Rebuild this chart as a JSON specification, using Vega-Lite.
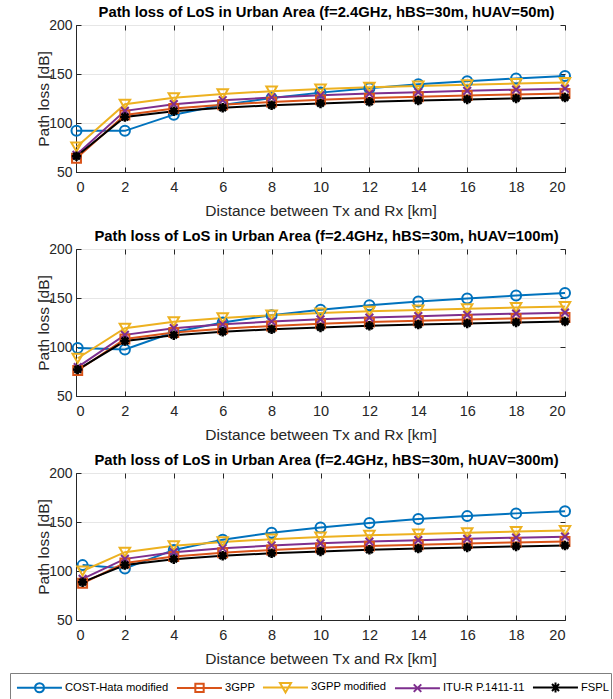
{
  "$schema": "https://vega.github.io/schema/vega-lite/v6.json",
  "padding": {"left": 9, "top": 4, "right": 0, "bottom": 0},
  "config": {
    "font": "Liberation Sans",
    "view": {"stroke": "#262626", "strokeWidth": 1},
    "axis": {"domainColor": "#262626", "tickColor": "#262626", "labelColor": "#262626", "titleColor": "#262626", "gridColor": "#e6e6e6", "labelFontSize": 14.5, "titleFontSize": 15.5, "titleFontWeight": "normal", "tickSize": -5, "domainWidth": 1, "labelFont": "Liberation Sans", "titleFont": "Liberation Sans"},
    "title": {"fontSize": 14.8, "fontWeight": "bold", "color": "#000000", "offset": -2, "dx": 6, "font": "Liberation Sans"},
    "legend": {"labelColor": "#000000", "strokeColor": "#7f7f7f", "fillColor": "#ffffff", "labelFont": "Liberation Sans", "labelLimit": 300}
  },
  "data": {"values": [
    {"p": 50, "m": "COST-Hata modified", "d": 0.02, "v": 92},
    {"p": 50, "m": "COST-Hata modified", "d": 2, "v": 92},
    {"p": 50, "m": "COST-Hata modified", "d": 4, "v": 108.5},
    {"p": 50, "m": "COST-Hata modified", "d": 6, "v": 118.5},
    {"p": 50, "m": "COST-Hata modified", "d": 8, "v": 125.5},
    {"p": 50, "m": "COST-Hata modified", "d": 10, "v": 131},
    {"p": 50, "m": "COST-Hata modified", "d": 12, "v": 135.5},
    {"p": 50, "m": "COST-Hata modified", "d": 14, "v": 139.5},
    {"p": 50, "m": "COST-Hata modified", "d": 16, "v": 142.5},
    {"p": 50, "m": "COST-Hata modified", "d": 18, "v": 145.5},
    {"p": 50, "m": "COST-Hata modified", "d": 20, "v": 148},
    {"p": 50, "m": "3GPP", "d": 0.02, "v": 64},
    {"p": 50, "m": "3GPP", "d": 2, "v": 108.2},
    {"p": 50, "m": "3GPP", "d": 4, "v": 114.8},
    {"p": 50, "m": "3GPP", "d": 6, "v": 118.7},
    {"p": 50, "m": "3GPP", "d": 8, "v": 121.5},
    {"p": 50, "m": "3GPP", "d": 10, "v": 123.6},
    {"p": 50, "m": "3GPP", "d": 12, "v": 125.4},
    {"p": 50, "m": "3GPP", "d": 14, "v": 126.8},
    {"p": 50, "m": "3GPP", "d": 16, "v": 128.1},
    {"p": 50, "m": "3GPP", "d": 18, "v": 129.2},
    {"p": 50, "m": "3GPP", "d": 20, "v": 130.2},
    {"p": 50, "m": "3GPP modified", "d": 0.02, "v": 75.5},
    {"p": 50, "m": "3GPP modified", "d": 2, "v": 119.2},
    {"p": 50, "m": "3GPP modified", "d": 4, "v": 125.8},
    {"p": 50, "m": "3GPP modified", "d": 6, "v": 129.7},
    {"p": 50, "m": "3GPP modified", "d": 8, "v": 132.5},
    {"p": 50, "m": "3GPP modified", "d": 10, "v": 134.6},
    {"p": 50, "m": "3GPP modified", "d": 12, "v": 136.4},
    {"p": 50, "m": "3GPP modified", "d": 14, "v": 137.8},
    {"p": 50, "m": "3GPP modified", "d": 16, "v": 139.1},
    {"p": 50, "m": "3GPP modified", "d": 18, "v": 140.2},
    {"p": 50, "m": "3GPP modified", "d": 20, "v": 141.2},
    {"p": 50, "m": "ITU-R P.1411-11", "d": 0.02, "v": 67.5},
    {"p": 50, "m": "ITU-R P.1411-11", "d": 2, "v": 112.4},
    {"p": 50, "m": "ITU-R P.1411-11", "d": 4, "v": 119.2},
    {"p": 50, "m": "ITU-R P.1411-11", "d": 6, "v": 123.2},
    {"p": 50, "m": "ITU-R P.1411-11", "d": 8, "v": 126},
    {"p": 50, "m": "ITU-R P.1411-11", "d": 10, "v": 128.2},
    {"p": 50, "m": "ITU-R P.1411-11", "d": 12, "v": 130},
    {"p": 50, "m": "ITU-R P.1411-11", "d": 14, "v": 131.5},
    {"p": 50, "m": "ITU-R P.1411-11", "d": 16, "v": 132.8},
    {"p": 50, "m": "ITU-R P.1411-11", "d": 18, "v": 134},
    {"p": 50, "m": "ITU-R P.1411-11", "d": 20, "v": 135},
    {"p": 50, "m": "FSPL", "d": 0.02, "v": 66},
    {"p": 50, "m": "FSPL", "d": 2, "v": 106.1},
    {"p": 50, "m": "FSPL", "d": 4, "v": 112.1},
    {"p": 50, "m": "FSPL", "d": 6, "v": 115.6},
    {"p": 50, "m": "FSPL", "d": 8, "v": 118.1},
    {"p": 50, "m": "FSPL", "d": 10, "v": 120},
    {"p": 50, "m": "FSPL", "d": 12, "v": 121.6},
    {"p": 50, "m": "FSPL", "d": 14, "v": 123},
    {"p": 50, "m": "FSPL", "d": 16, "v": 124.1},
    {"p": 50, "m": "FSPL", "d": 18, "v": 125.1},
    {"p": 50, "m": "FSPL", "d": 20, "v": 126.1},

    {"p": 100, "m": "COST-Hata modified", "d": 0.07, "v": 99},
    {"p": 100, "m": "COST-Hata modified", "d": 2, "v": 97.5},
    {"p": 100, "m": "COST-Hata modified", "d": 4, "v": 115},
    {"p": 100, "m": "COST-Hata modified", "d": 6, "v": 125},
    {"p": 100, "m": "COST-Hata modified", "d": 8, "v": 132.5},
    {"p": 100, "m": "COST-Hata modified", "d": 10, "v": 138},
    {"p": 100, "m": "COST-Hata modified", "d": 12, "v": 142.5},
    {"p": 100, "m": "COST-Hata modified", "d": 14, "v": 146.5},
    {"p": 100, "m": "COST-Hata modified", "d": 16, "v": 149.5},
    {"p": 100, "m": "COST-Hata modified", "d": 18, "v": 152.5},
    {"p": 100, "m": "COST-Hata modified", "d": 20, "v": 155},
    {"p": 100, "m": "3GPP", "d": 0.07, "v": 76},
    {"p": 100, "m": "3GPP", "d": 2, "v": 108.2},
    {"p": 100, "m": "3GPP", "d": 4, "v": 114.8},
    {"p": 100, "m": "3GPP", "d": 6, "v": 118.7},
    {"p": 100, "m": "3GPP", "d": 8, "v": 121.5},
    {"p": 100, "m": "3GPP", "d": 10, "v": 123.6},
    {"p": 100, "m": "3GPP", "d": 12, "v": 125.4},
    {"p": 100, "m": "3GPP", "d": 14, "v": 126.8},
    {"p": 100, "m": "3GPP", "d": 16, "v": 128.1},
    {"p": 100, "m": "3GPP", "d": 18, "v": 129.2},
    {"p": 100, "m": "3GPP", "d": 20, "v": 130.2},
    {"p": 100, "m": "3GPP modified", "d": 0.07, "v": 88.5},
    {"p": 100, "m": "3GPP modified", "d": 2, "v": 119.2},
    {"p": 100, "m": "3GPP modified", "d": 4, "v": 125.8},
    {"p": 100, "m": "3GPP modified", "d": 6, "v": 129.7},
    {"p": 100, "m": "3GPP modified", "d": 8, "v": 132.5},
    {"p": 100, "m": "3GPP modified", "d": 10, "v": 134.6},
    {"p": 100, "m": "3GPP modified", "d": 12, "v": 136.4},
    {"p": 100, "m": "3GPP modified", "d": 14, "v": 137.8},
    {"p": 100, "m": "3GPP modified", "d": 16, "v": 139.1},
    {"p": 100, "m": "3GPP modified", "d": 18, "v": 140.2},
    {"p": 100, "m": "3GPP modified", "d": 20, "v": 141.2},
    {"p": 100, "m": "ITU-R P.1411-11", "d": 0.07, "v": 79.5},
    {"p": 100, "m": "ITU-R P.1411-11", "d": 2, "v": 112.4},
    {"p": 100, "m": "ITU-R P.1411-11", "d": 4, "v": 119.2},
    {"p": 100, "m": "ITU-R P.1411-11", "d": 6, "v": 123.2},
    {"p": 100, "m": "ITU-R P.1411-11", "d": 8, "v": 126},
    {"p": 100, "m": "ITU-R P.1411-11", "d": 10, "v": 128.2},
    {"p": 100, "m": "ITU-R P.1411-11", "d": 12, "v": 130},
    {"p": 100, "m": "ITU-R P.1411-11", "d": 14, "v": 131.5},
    {"p": 100, "m": "ITU-R P.1411-11", "d": 16, "v": 132.8},
    {"p": 100, "m": "ITU-R P.1411-11", "d": 18, "v": 134},
    {"p": 100, "m": "ITU-R P.1411-11", "d": 20, "v": 135},
    {"p": 100, "m": "FSPL", "d": 0.07, "v": 77},
    {"p": 100, "m": "FSPL", "d": 2, "v": 106.1},
    {"p": 100, "m": "FSPL", "d": 4, "v": 112.1},
    {"p": 100, "m": "FSPL", "d": 6, "v": 115.6},
    {"p": 100, "m": "FSPL", "d": 8, "v": 118.1},
    {"p": 100, "m": "FSPL", "d": 10, "v": 120},
    {"p": 100, "m": "FSPL", "d": 12, "v": 121.6},
    {"p": 100, "m": "FSPL", "d": 14, "v": 123},
    {"p": 100, "m": "FSPL", "d": 16, "v": 124.1},
    {"p": 100, "m": "FSPL", "d": 18, "v": 125.1},
    {"p": 100, "m": "FSPL", "d": 20, "v": 126.1},

    {"p": 300, "m": "COST-Hata modified", "d": 0.27, "v": 106},
    {"p": 300, "m": "COST-Hata modified", "d": 2, "v": 102.5},
    {"p": 300, "m": "COST-Hata modified", "d": 4, "v": 121.5},
    {"p": 300, "m": "COST-Hata modified", "d": 6, "v": 132},
    {"p": 300, "m": "COST-Hata modified", "d": 8, "v": 139},
    {"p": 300, "m": "COST-Hata modified", "d": 10, "v": 144.5},
    {"p": 300, "m": "COST-Hata modified", "d": 12, "v": 149},
    {"p": 300, "m": "COST-Hata modified", "d": 14, "v": 153},
    {"p": 300, "m": "COST-Hata modified", "d": 16, "v": 156},
    {"p": 300, "m": "COST-Hata modified", "d": 18, "v": 158.8},
    {"p": 300, "m": "COST-Hata modified", "d": 20, "v": 161},
    {"p": 300, "m": "3GPP", "d": 0.27, "v": 87.5},
    {"p": 300, "m": "3GPP", "d": 2, "v": 108.2},
    {"p": 300, "m": "3GPP", "d": 4, "v": 114.8},
    {"p": 300, "m": "3GPP", "d": 6, "v": 118.7},
    {"p": 300, "m": "3GPP", "d": 8, "v": 121.5},
    {"p": 300, "m": "3GPP", "d": 10, "v": 123.6},
    {"p": 300, "m": "3GPP", "d": 12, "v": 125.4},
    {"p": 300, "m": "3GPP", "d": 14, "v": 126.8},
    {"p": 300, "m": "3GPP", "d": 16, "v": 128.1},
    {"p": 300, "m": "3GPP", "d": 18, "v": 129.2},
    {"p": 300, "m": "3GPP", "d": 20, "v": 130.2},
    {"p": 300, "m": "3GPP modified", "d": 0.27, "v": 100},
    {"p": 300, "m": "3GPP modified", "d": 2, "v": 119.2},
    {"p": 300, "m": "3GPP modified", "d": 4, "v": 125.8},
    {"p": 300, "m": "3GPP modified", "d": 6, "v": 129.7},
    {"p": 300, "m": "3GPP modified", "d": 8, "v": 132.5},
    {"p": 300, "m": "3GPP modified", "d": 10, "v": 134.6},
    {"p": 300, "m": "3GPP modified", "d": 12, "v": 136.4},
    {"p": 300, "m": "3GPP modified", "d": 14, "v": 137.8},
    {"p": 300, "m": "3GPP modified", "d": 16, "v": 139.1},
    {"p": 300, "m": "3GPP modified", "d": 18, "v": 140.2},
    {"p": 300, "m": "3GPP modified", "d": 20, "v": 141.2},
    {"p": 300, "m": "ITU-R P.1411-11", "d": 0.27, "v": 92},
    {"p": 300, "m": "ITU-R P.1411-11", "d": 2, "v": 112.4},
    {"p": 300, "m": "ITU-R P.1411-11", "d": 4, "v": 119.2},
    {"p": 300, "m": "ITU-R P.1411-11", "d": 6, "v": 123.2},
    {"p": 300, "m": "ITU-R P.1411-11", "d": 8, "v": 126},
    {"p": 300, "m": "ITU-R P.1411-11", "d": 10, "v": 128.2},
    {"p": 300, "m": "ITU-R P.1411-11", "d": 12, "v": 130},
    {"p": 300, "m": "ITU-R P.1411-11", "d": 14, "v": 131.5},
    {"p": 300, "m": "ITU-R P.1411-11", "d": 16, "v": 132.8},
    {"p": 300, "m": "ITU-R P.1411-11", "d": 18, "v": 134},
    {"p": 300, "m": "ITU-R P.1411-11", "d": 20, "v": 135},
    {"p": 300, "m": "FSPL", "d": 0.27, "v": 88.6},
    {"p": 300, "m": "FSPL", "d": 2, "v": 106.1},
    {"p": 300, "m": "FSPL", "d": 4, "v": 112.1},
    {"p": 300, "m": "FSPL", "d": 6, "v": 115.6},
    {"p": 300, "m": "FSPL", "d": 8, "v": 118.1},
    {"p": 300, "m": "FSPL", "d": 10, "v": 120},
    {"p": 300, "m": "FSPL", "d": 12, "v": 121.6},
    {"p": 300, "m": "FSPL", "d": 14, "v": 123},
    {"p": 300, "m": "FSPL", "d": 16, "v": 124.1},
    {"p": 300, "m": "FSPL", "d": 18, "v": 125.1},
    {"p": 300, "m": "FSPL", "d": 20, "v": 126.1}
  ]},
  "spacing": 8,
  "vconcat": [
    {
      "title": "Path loss of LoS in Urban Area (f=2.4GHz, hBS=30m, hUAV=50m)",
      "width": 489, "height": 147,
      "transform": [{"filter": "datum.p === 50"}],
      "encoding": {
        "x": {"field": "d", "type": "quantitative", "scale": {"domain": [0, 20]}, "axis": null},
        "y": {"field": "v", "type": "quantitative", "scale": {"domain": [50, 200]}, "axis": null},
        "color": {"field": "m", "type": "nominal", "sort": null, "scale": {"domain": ["COST-Hata modified","3GPP","3GPP modified","ITU-R P.1411-11","FSPL"], "range": ["#0072BD","#D95319","#EDB120","#7E2F8E","#000000"]},
          "legend": {"title": null, "orient": "none", "legendX": -66, "legendY": 648, "direction": "horizontal", "symbolSize": 484, "labelOffset": 29, "columnPadding": 3, "padding": 2, "labelFontSize": 11.2,
            "encode": {"symbols": {"update": {"shape": {"signal": "datum.value === 'COST-Hata modified' ? 'M-0.64,0L3.45,0M1,0A0.41,0.41 0 1,1 1.82,0A0.41,0.41 0 1,1 1,0' : datum.value === '3GPP' ? 'M-0.64,0L3.45,0M1.03,-0.38L1.79,-0.38L1.79,0.38L1.03,0.38Z' : datum.value === '3GPP modified' ? 'M-0.64,0L3.45,0M0.91,-0.4L1.91,-0.4L1.41,0.46Z' : datum.value === 'ITU-R P.1411-11' ? 'M-0.64,0L3.45,0M1.07,-0.34L1.75,0.34M1.07,0.34L1.75,-0.34' : 'M-0.64,0L3.45,0M0.96,0L1.86,0M1.41,-0.45L1.41,0.45M1.09,-0.32L1.73,0.32M1.09,0.32L1.73,-0.32'"}, "stroke": {"signal": "scale('color', datum.value)"}, "fill": {"value": "transparent"}, "strokeWidth": {"value": 2}, "strokeDash": {"value": []}, "opacity": {"value": 1}}}}}}
      },
      "layer": [
        {"mark": {"type": "line", "strokeWidth": 2},
         "encoding": {
           "x": {"field": "d", "type": "quantitative", "axis": {"values": [0,2,4,6,8,10,12,14,16,18,20], "title": "Distance between Tx and Rx [km]", "labelPadding": 13, "titlePadding": 10}},
           "y": {"field": "v", "type": "quantitative", "axis": {"values": [50,100,150,200], "title": "Path loss [dB]", "labelPadding": 9, "titlePadding": -3, "labelFontSize": 14}}
         }},
        {"transform": [{"filter": "datum.m === 'COST-Hata modified'"}],
         "mark": {"type": "point", "shape": "circle", "filled": false, "size": 100, "strokeWidth": 2, "opacity": 1},
         "encoding": {
           "x": {"field": "d", "type": "quantitative", "axis": {"orient": "top", "labels": false, "title": null, "grid": false, "domain": false, "values": [0,2,4,6,8,10,12,14,16,18,20]}},
           "y": {"field": "v", "type": "quantitative", "axis": {"orient": "right", "labels": false, "title": null, "grid": false, "domain": false, "values": [50,100,150,200]}}
         }},
        {"transform": [{"filter": "datum.m === '3GPP'"}], "mark": {"type": "point", "shape": "square", "filled": false, "size": 80, "strokeWidth": 2, "opacity": 1}},
        {"transform": [{"filter": "datum.m === '3GPP modified'"}], "mark": {"type": "point", "shape": "triangle-down", "filled": false, "size": 110, "strokeWidth": 2, "opacity": 1}},
        {"transform": [{"filter": "datum.m === 'ITU-R P.1411-11'"}], "mark": {"type": "point", "shape": "M-1,-1L1,1M-1,1L1,-1", "filled": false, "size": 60, "strokeWidth": 2, "opacity": 1}},
        {"transform": [{"filter": "datum.m === 'FSPL'"}], "mark": {"type": "point", "shape": "M-1,0L1,0M0,-1L0,1M-0.7,-0.7L0.7,0.7M-0.7,0.7L0.7,-0.7", "filled": false, "size": 90, "strokeWidth": 2.5, "opacity": 1}}
      ],
      "resolve": {"axis": {"x": "independent", "y": "independent"}}
    },
    {
      "title": "Path loss of LoS in Urban Area (f=2.4GHz, hBS=30m, hUAV=100m)",
      "width": 489, "height": 147,
      "transform": [{"filter": "datum.p === 100"}],
      "encoding": {
        "x": {"field": "d", "type": "quantitative", "scale": {"domain": [0, 20]}, "axis": null},
        "y": {"field": "v", "type": "quantitative", "scale": {"domain": [50, 200]}, "axis": null},
        "color": {"field": "m", "type": "nominal", "sort": null, "scale": {"domain": ["COST-Hata modified","3GPP","3GPP modified","ITU-R P.1411-11","FSPL"], "range": ["#0072BD","#D95319","#EDB120","#7E2F8E","#000000"]},
          "legend": {"title": null, "orient": "none", "legendX": -66, "legendY": 648, "direction": "horizontal", "symbolSize": 484, "labelOffset": 29, "columnPadding": 3, "padding": 2, "labelFontSize": 11.2,
            "encode": {"symbols": {"update": {"shape": {"signal": "datum.value === 'COST-Hata modified' ? 'M-0.64,0L3.45,0M1,0A0.41,0.41 0 1,1 1.82,0A0.41,0.41 0 1,1 1,0' : datum.value === '3GPP' ? 'M-0.64,0L3.45,0M1.03,-0.38L1.79,-0.38L1.79,0.38L1.03,0.38Z' : datum.value === '3GPP modified' ? 'M-0.64,0L3.45,0M0.91,-0.4L1.91,-0.4L1.41,0.46Z' : datum.value === 'ITU-R P.1411-11' ? 'M-0.64,0L3.45,0M1.07,-0.34L1.75,0.34M1.07,0.34L1.75,-0.34' : 'M-0.64,0L3.45,0M0.96,0L1.86,0M1.41,-0.45L1.41,0.45M1.09,-0.32L1.73,0.32M1.09,0.32L1.73,-0.32'"}, "stroke": {"signal": "scale('color', datum.value)"}, "fill": {"value": "transparent"}, "strokeWidth": {"value": 2}, "strokeDash": {"value": []}, "opacity": {"value": 1}}}}}}
      },
      "layer": [
        {"mark": {"type": "line", "strokeWidth": 2},
         "encoding": {
           "x": {"field": "d", "type": "quantitative", "axis": {"values": [0,2,4,6,8,10,12,14,16,18,20], "title": "Distance between Tx and Rx [km]", "labelPadding": 13, "titlePadding": 10}},
           "y": {"field": "v", "type": "quantitative", "axis": {"values": [50,100,150,200], "title": "Path loss [dB]", "labelPadding": 9, "titlePadding": -3, "labelFontSize": 14}}
         }},
        {"transform": [{"filter": "datum.m === 'COST-Hata modified'"}],
         "mark": {"type": "point", "shape": "circle", "filled": false, "size": 100, "strokeWidth": 2, "opacity": 1},
         "encoding": {
           "x": {"field": "d", "type": "quantitative", "axis": {"orient": "top", "labels": false, "title": null, "grid": false, "domain": false, "values": [0,2,4,6,8,10,12,14,16,18,20]}},
           "y": {"field": "v", "type": "quantitative", "axis": {"orient": "right", "labels": false, "title": null, "grid": false, "domain": false, "values": [50,100,150,200]}}
         }},
        {"transform": [{"filter": "datum.m === '3GPP'"}], "mark": {"type": "point", "shape": "square", "filled": false, "size": 80, "strokeWidth": 2, "opacity": 1}},
        {"transform": [{"filter": "datum.m === '3GPP modified'"}], "mark": {"type": "point", "shape": "triangle-down", "filled": false, "size": 110, "strokeWidth": 2, "opacity": 1}},
        {"transform": [{"filter": "datum.m === 'ITU-R P.1411-11'"}], "mark": {"type": "point", "shape": "M-1,-1L1,1M-1,1L1,-1", "filled": false, "size": 60, "strokeWidth": 2, "opacity": 1}},
        {"transform": [{"filter": "datum.m === 'FSPL'"}], "mark": {"type": "point", "shape": "M-1,0L1,0M0,-1L0,1M-0.7,-0.7L0.7,0.7M-0.7,0.7L0.7,-0.7", "filled": false, "size": 90, "strokeWidth": 2.5, "opacity": 1}}
      ],
      "resolve": {"axis": {"x": "independent", "y": "independent"}}
    },
    {
      "title": "Path loss of LoS in Urban Area (f=2.4GHz, hBS=30m, hUAV=300m)",
      "width": 489, "height": 147,
      "transform": [{"filter": "datum.p === 300"}],
      "encoding": {
        "x": {"field": "d", "type": "quantitative", "scale": {"domain": [0, 20]}, "axis": null},
        "y": {"field": "v", "type": "quantitative", "scale": {"domain": [50, 200]}, "axis": null},
        "color": {"field": "m", "type": "nominal", "sort": null, "scale": {"domain": ["COST-Hata modified","3GPP","3GPP modified","ITU-R P.1411-11","FSPL"], "range": ["#0072BD","#D95319","#EDB120","#7E2F8E","#000000"]},
          "legend": {"title": null, "orient": "none", "legendX": -66, "legendY": 648, "direction": "horizontal", "symbolSize": 484, "labelOffset": 29, "columnPadding": 3, "padding": 2, "labelFontSize": 11.2,
            "encode": {"symbols": {"update": {"shape": {"signal": "datum.value === 'COST-Hata modified' ? 'M-0.64,0L3.45,0M1,0A0.41,0.41 0 1,1 1.82,0A0.41,0.41 0 1,1 1,0' : datum.value === '3GPP' ? 'M-0.64,0L3.45,0M1.03,-0.38L1.79,-0.38L1.79,0.38L1.03,0.38Z' : datum.value === '3GPP modified' ? 'M-0.64,0L3.45,0M0.91,-0.4L1.91,-0.4L1.41,0.46Z' : datum.value === 'ITU-R P.1411-11' ? 'M-0.64,0L3.45,0M1.07,-0.34L1.75,0.34M1.07,0.34L1.75,-0.34' : 'M-0.64,0L3.45,0M0.96,0L1.86,0M1.41,-0.45L1.41,0.45M1.09,-0.32L1.73,0.32M1.09,0.32L1.73,-0.32'"}, "stroke": {"signal": "scale('color', datum.value)"}, "fill": {"value": "transparent"}, "strokeWidth": {"value": 2}, "strokeDash": {"value": []}, "opacity": {"value": 1}}}}}}
      },
      "layer": [
        {"mark": {"type": "line", "strokeWidth": 2},
         "encoding": {
           "x": {"field": "d", "type": "quantitative", "axis": {"values": [0,2,4,6,8,10,12,14,16,18,20], "title": "Distance between Tx and Rx [km]", "labelPadding": 13, "titlePadding": 10}},
           "y": {"field": "v", "type": "quantitative", "axis": {"values": [50,100,150,200], "title": "Path loss [dB]", "labelPadding": 9, "titlePadding": -3, "labelFontSize": 14}}
         }},
        {"transform": [{"filter": "datum.m === 'COST-Hata modified'"}],
         "mark": {"type": "point", "shape": "circle", "filled": false, "size": 100, "strokeWidth": 2, "opacity": 1},
         "encoding": {
           "x": {"field": "d", "type": "quantitative", "axis": {"orient": "top", "labels": false, "title": null, "grid": false, "domain": false, "values": [0,2,4,6,8,10,12,14,16,18,20]}},
           "y": {"field": "v", "type": "quantitative", "axis": {"orient": "right", "labels": false, "title": null, "grid": false, "domain": false, "values": [50,100,150,200]}}
         }},
        {"transform": [{"filter": "datum.m === '3GPP'"}], "mark": {"type": "point", "shape": "square", "filled": false, "size": 80, "strokeWidth": 2, "opacity": 1}},
        {"transform": [{"filter": "datum.m === '3GPP modified'"}], "mark": {"type": "point", "shape": "triangle-down", "filled": false, "size": 110, "strokeWidth": 2, "opacity": 1}},
        {"transform": [{"filter": "datum.m === 'ITU-R P.1411-11'"}], "mark": {"type": "point", "shape": "M-1,-1L1,1M-1,1L1,-1", "filled": false, "size": 60, "strokeWidth": 2, "opacity": 1}},
        {"transform": [{"filter": "datum.m === 'FSPL'"}], "mark": {"type": "point", "shape": "M-1,0L1,0M0,-1L0,1M-0.7,-0.7L0.7,0.7M-0.7,0.7L0.7,-0.7", "filled": false, "size": 90, "strokeWidth": 2.5, "opacity": 1}}
      ],
      "resolve": {"axis": {"x": "independent", "y": "independent"}}
    }
  ],
  "resolve": {"scale": {"color": "shared"}}
}
